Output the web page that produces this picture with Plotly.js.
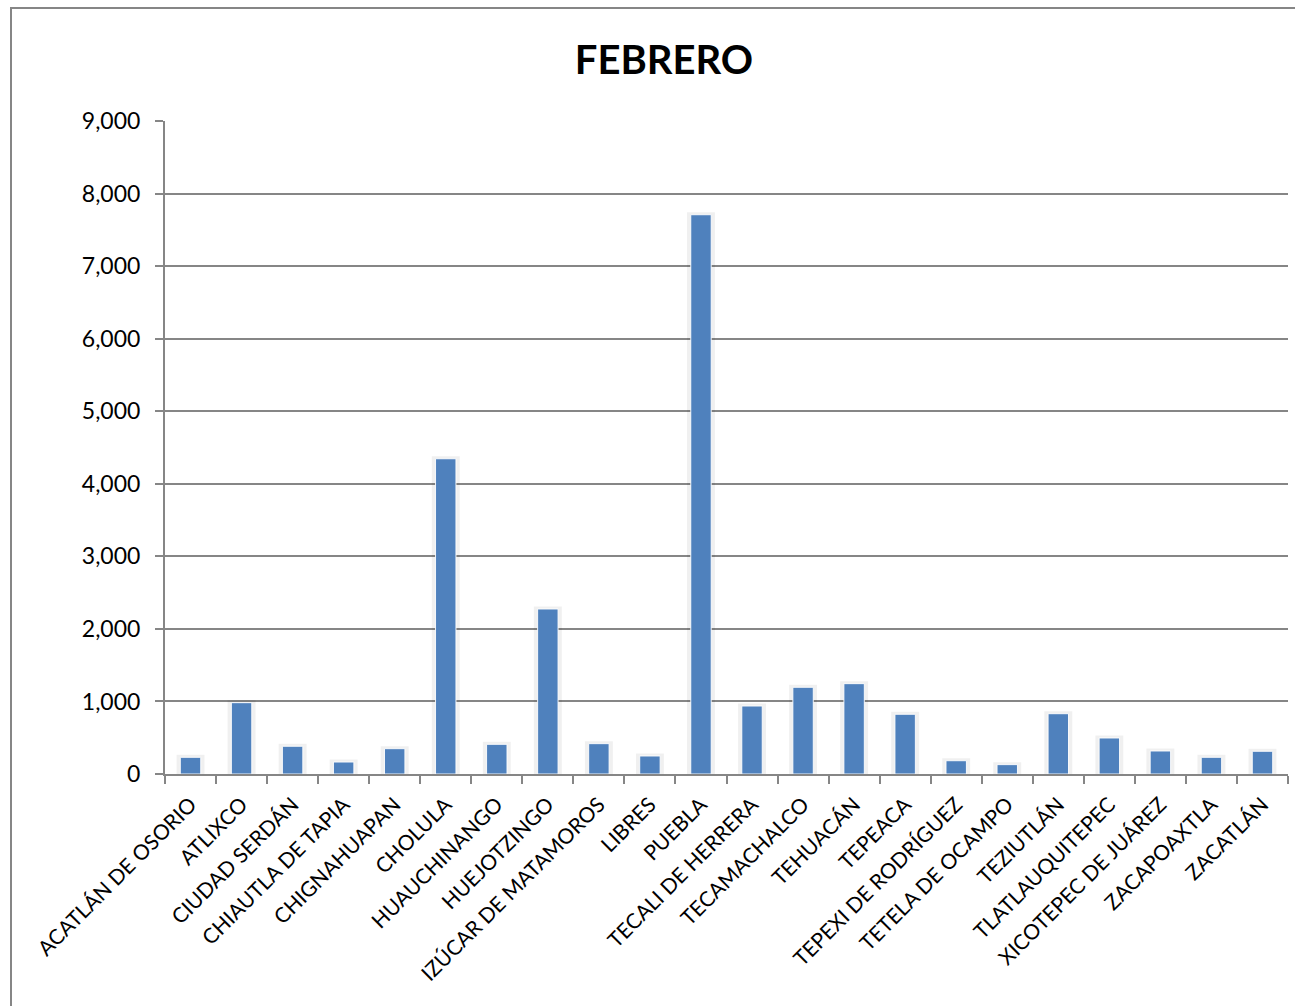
<!DOCTYPE html>
<html>
<head>
<meta charset="utf-8">
<script src="https://cdn.plot.ly/plotly-3.0.1.min.js"></script>
<style>
html,body{margin:0;padding:0;background:#fff;}
#chart{width:1295px;height:1006px;}
</style>
</head>
<body>
<div id="chart"></div>
<script>
const categories = [
  "ACATLÁN DE OSORIO","ATLIXCO","CIUDAD SERDÁN","CHIAUTLA DE TAPIA","CHIGNAHUAPAN",
  "CHOLULA","HUAUCHINANGO","HUEJOTZINGO","IZÚCAR DE MATAMOROS","LIBRES","PUEBLA",
  "TECALI DE HERRERA","TECAMACHALCO","TEHUACÁN","TEPEACA","TEPEXI DE RODRÍGUEZ",
  "TETELA DE OCAMPO","TEZIUTLÁN","TLATLAUQUITEPEC","XICOTEPEC DE JUÁREZ","ZACAPOAXTLA","ZACATLÁN"
];
const values = [230, 983, 382, 165, 349, 4345, 409, 2274, 418, 248, 7708,
  937, 1195, 1245, 823, 183, 129, 831, 496, 317, 230, 313];
const yTickVals = [0,1000,2000,3000,4000,5000,6000,7000,8000,9000];
const chartTitle = "FEBRERO";

const W = 1123, H = 653, L = 165, T = 121;
function px(x){return (x - L)/W;}
function py(y){return (T + H - y)/H;}

const shadow = {
  type: 'bar', x: categories, y: values, hoverinfo: 'skip',
  marker: {color: 'rgba(0,0,0,0)', line: {color: 'rgba(0,0,0,0.06)', width: 5}},
  width: 0.45, showlegend: false
};
const bars = {
  type: 'bar', x: categories, y: values,
  marker: {color: '#4F81BD', line: {color: 'rgba(255,255,255,0.9)', width: 1}},
  width: 0.4, showlegend: false
};

const layout = {
  width: 1295, height: 1006,
  margin: {l: L, r: 1295 - L - W, t: T, b: 1006 - T - H},
  paper_bgcolor: '#fff', plot_bgcolor: '#fff',
  font: {family: 'Lato, "Open Sans", sans-serif', color: '#000'},
  title: {text: chartTitle, x: 664/1295, xref: 'container', xanchor: 'center', y: 1 - 60/1006, yanchor: 'middle',
          font: {family: 'Lato, sans-serif', size: 40, color: '#000', weight: 'bold'}},
  barmode: 'overlay',
  xaxis: {
    type: 'category', tickangle: -45, tickfont: {size: 21, color: '#000'}, ticklabelstandoff: 8,
    showline: true, linecolor: '#868686', linewidth: 2,
    ticks: 'outside', tickson: 'boundaries', ticklen: 8, tickcolor: '#868686', tickwidth: 2,
    showgrid: false, automargin: false
  },
  yaxis: {
    range: [0, 9000], tickvals: yTickVals, tickformat: ',d',
    tickfont: {size: 23, color: '#000'}, ticklabelstandoff: 10,
    showline: true, linecolor: '#868686', linewidth: 2,
    ticks: 'outside', ticklen: 8, tickcolor: '#868686', tickwidth: 2,
    showgrid: true, gridcolor: '#868686', gridwidth: 2, zeroline: false, automargin: false
  },
  shapes: [{
    type: 'rect', xref: 'paper', yref: 'paper',
    x0: px(11), x1: px(1310), y0: py(1020), y1: py(8),
    line: {color: '#868686', width: 2}, fillcolor: 'rgba(0,0,0,0)', layer: 'below'
  }]
};

Plotly.newPlot('chart', [shadow, bars], layout, {displayModeBar: false, staticPlot: true});
</script>
</body>
</html>
